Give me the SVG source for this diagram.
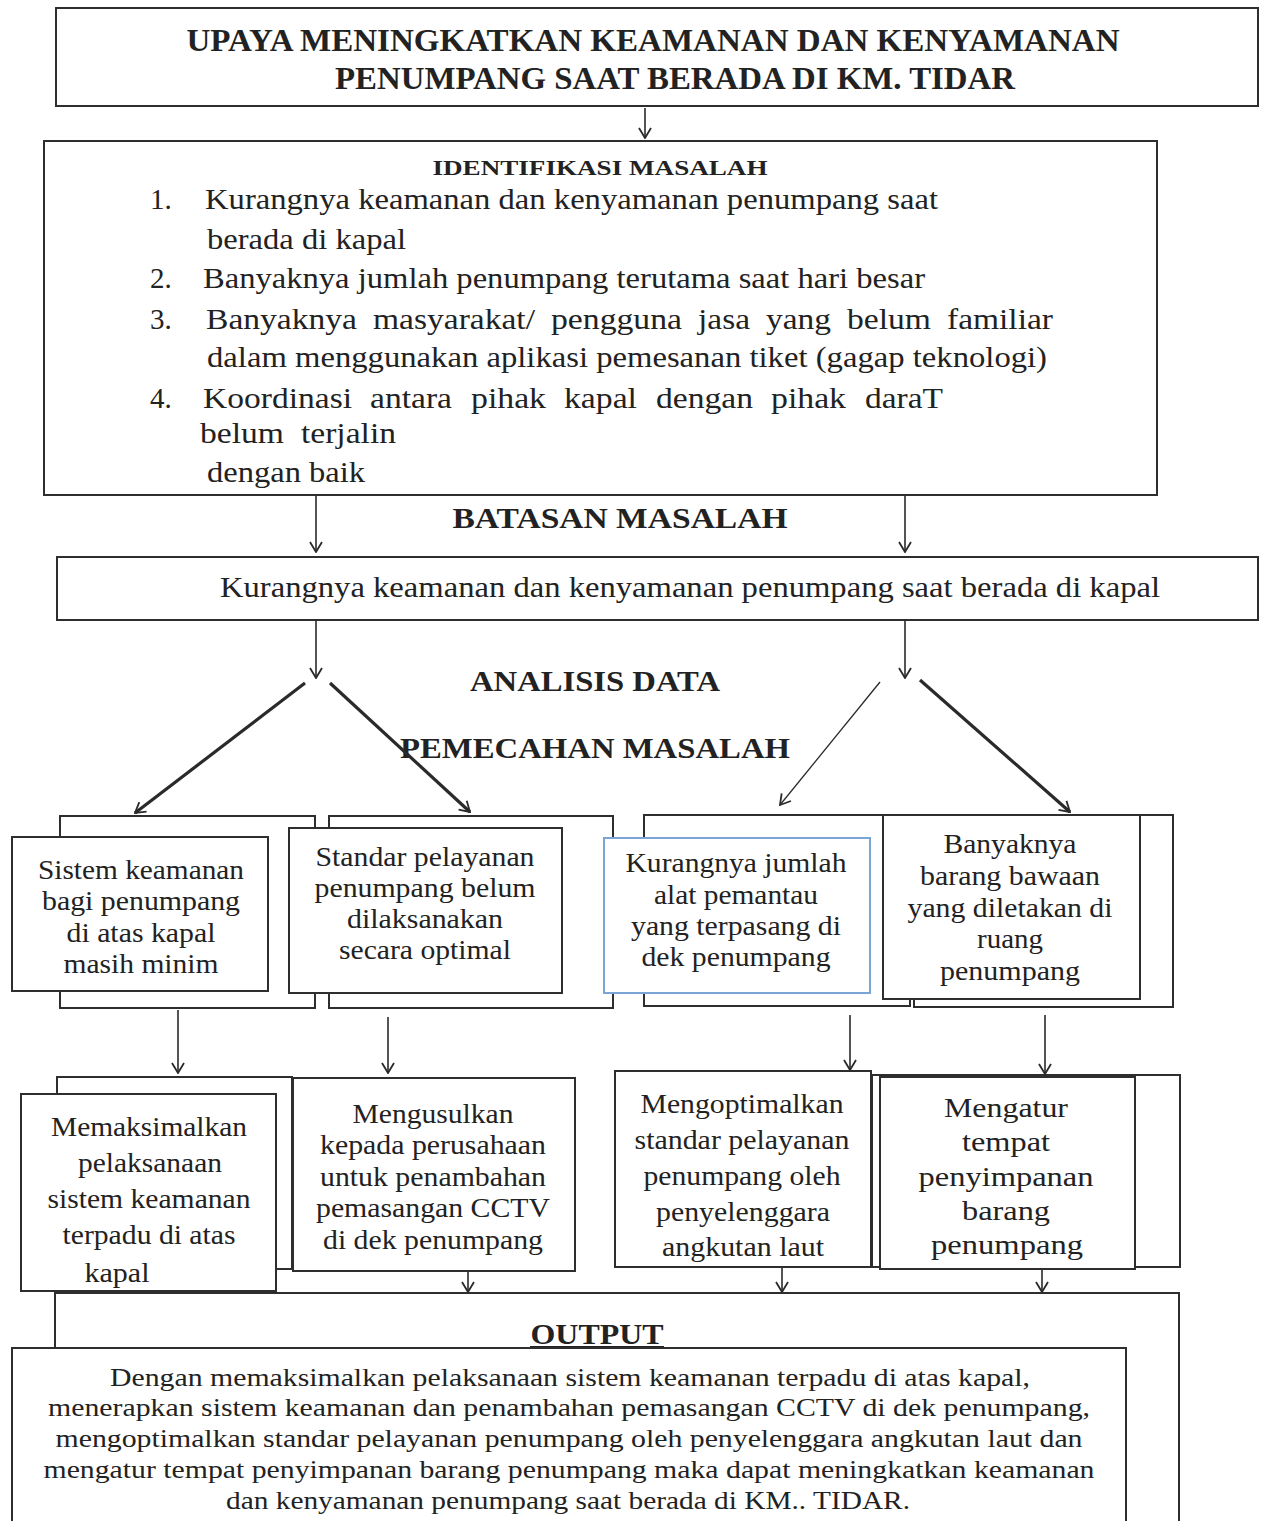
<svg xmlns="http://www.w3.org/2000/svg" width="1261" height="1521" viewBox="0 0 1261 1521">
<style>
.bg{fill:#fff}
.box{fill:#fff;stroke:#2e2e2e;stroke-width:2}
.blue{fill:#fff;stroke:#7aa6d6;stroke-width:2}
.t{font-family:"Liberation Serif","Times New Roman",serif;fill:#222;font-size:29px}
.b{font-weight:bold}
.c{text-anchor:middle}
.h{font-size:29px}
.n{font-size:27.5px}
.o{font-size:25px}
.ln{fill:none;stroke:#2a2a2a;stroke-width:1.6}
.thick{stroke-width:3.2}
.thin{stroke-width:1.3}
</style>
<defs>
<marker id="ah" viewBox="-1 -7 12 14" refX="10" refY="0" markerWidth="12" markerHeight="14" markerUnits="userSpaceOnUse" orient="auto">
<path d="M0,-6 L10,0 L0,6" fill="none" stroke="#2a2a2a" stroke-width="1.8"/>
</marker>
</defs>
<rect class="bg" x="0" y="0" width="1261" height="1521"/>

<g id="title">
<rect class="box" x="56" y="8" width="1202" height="98"/>
<text class="t b c" x="653" y="51" style="font-size:31px" textLength="933" lengthAdjust="spacingAndGlyphs">UPAYA MENINGKATKAN KEAMANAN DAN KENYAMANAN</text>
<text class="t b c" x="675" y="89" style="font-size:31px" textLength="680" lengthAdjust="spacingAndGlyphs">PENUMPANG SAAT BERADA DI KM. TIDAR</text>
</g>

<g id="identifikasi">
<rect class="box" x="44" y="141" width="1113" height="354"/>
<text class="t b c" x="600" y="175" style="font-size:22px" textLength="335" lengthAdjust="spacingAndGlyphs">IDENTIFIKASI MASALAH</text>
<text class="t" x="150" y="209">1.</text>
<text class="t" x="205" y="209" textLength="733" lengthAdjust="spacingAndGlyphs">Kurangnya keamanan dan kenyamanan penumpang saat</text>
<text class="t" x="207" y="249" textLength="199" lengthAdjust="spacingAndGlyphs">berada di kapal</text>
<text class="t" x="150" y="288">2.</text>
<text class="t" x="203" y="288" textLength="722" lengthAdjust="spacingAndGlyphs">Banyaknya jumlah penumpang terutama saat hari besar</text>
<text class="t" x="150" y="329">3.</text>
<text class="t" x="206" y="329" textLength="151" lengthAdjust="spacingAndGlyphs">Banyaknya</text>
<text class="t" x="373" y="329" textLength="162" lengthAdjust="spacingAndGlyphs">masyarakat/</text>
<text class="t" x="551" y="329" textLength="131" lengthAdjust="spacingAndGlyphs">pengguna</text>
<text class="t" x="698" y="329" textLength="52" lengthAdjust="spacingAndGlyphs">jasa</text>
<text class="t" x="766" y="329" textLength="65" lengthAdjust="spacingAndGlyphs">yang</text>
<text class="t" x="847" y="329" textLength="84" lengthAdjust="spacingAndGlyphs">belum</text>
<text class="t" x="947" y="329" textLength="106" lengthAdjust="spacingAndGlyphs">familiar</text>
<text class="t" x="207" y="367" textLength="840" lengthAdjust="spacingAndGlyphs">dalam menggunakan aplikasi pemesanan tiket (gagap teknologi)</text>
<text class="t" x="150" y="408">4.</text>
<text class="t" x="203" y="408" textLength="149" lengthAdjust="spacingAndGlyphs">Koordinasi</text>
<text class="t" x="370" y="408" textLength="82" lengthAdjust="spacingAndGlyphs">antara</text>
<text class="t" x="471" y="408" textLength="75" lengthAdjust="spacingAndGlyphs">pihak</text>
<text class="t" x="564" y="408" textLength="73" lengthAdjust="spacingAndGlyphs">kapal</text>
<text class="t" x="656" y="408" textLength="97" lengthAdjust="spacingAndGlyphs">dengan</text>
<text class="t" x="771" y="408" textLength="75" lengthAdjust="spacingAndGlyphs">pihak</text>
<text class="t" x="865" y="408" textLength="78" lengthAdjust="spacingAndGlyphs">daraT</text>
<text class="t" x="200" y="443" textLength="84" lengthAdjust="spacingAndGlyphs">belum</text>
<text class="t" x="301" y="443" textLength="95" lengthAdjust="spacingAndGlyphs">terjalin</text>
<text class="t" x="207" y="482" textLength="158" lengthAdjust="spacingAndGlyphs">dengan baik</text>
</g>

<g id="label-batasan">
<text class="t b c h" x="620" y="528" textLength="335" lengthAdjust="spacingAndGlyphs">BATASAN MASALAH</text>
</g>

<g id="batasan">
<rect class="box" x="57" y="557" width="1201" height="63"/>
<text class="t" x="220" y="597" textLength="940" lengthAdjust="spacingAndGlyphs">Kurangnya keamanan dan kenyamanan penumpang saat berada di kapal</text>
</g>

<g id="label-analisis">
<text class="t b c h" x="595" y="691" textLength="250" lengthAdjust="spacingAndGlyphs">ANALISIS DATA</text>
</g>
<g id="label-pemecahan">
<text class="t b c h" x="595" y="758" textLength="390" lengthAdjust="spacingAndGlyphs">PEMECAHAN MASALAH</text>
</g>

<g id="masalah-1">
<rect class="box" x="60" y="816" width="255" height="192"/>
<rect class="box" x="12" y="837" width="256" height="154"/>
<text class="t n c" x="141" y="879" textLength="206" lengthAdjust="spacingAndGlyphs">Sistem keamanan</text>
<text class="t n c" x="141" y="910" textLength="198" lengthAdjust="spacingAndGlyphs">bagi penumpang</text>
<text class="t n c" x="141" y="942" textLength="149" lengthAdjust="spacingAndGlyphs">di atas kapal</text>
<text class="t n c" x="141" y="973" textLength="155" lengthAdjust="spacingAndGlyphs">masih minim</text>
</g>
<g id="masalah-2">
<rect class="box" x="329" y="816" width="284" height="192"/>
<rect class="box" x="289" y="828" width="273" height="165"/>
<text class="t n c" x="425" y="866" textLength="219" lengthAdjust="spacingAndGlyphs">Standar pelayanan</text>
<text class="t n c" x="425" y="897" textLength="221" lengthAdjust="spacingAndGlyphs">penumpang belum</text>
<text class="t n c" x="425" y="928" textLength="156" lengthAdjust="spacingAndGlyphs">dilaksanakan</text>
<text class="t n c" x="425" y="959" textLength="172" lengthAdjust="spacingAndGlyphs">secara optimal</text>
</g>
<g id="masalah-3">
<rect class="box" x="644" y="815" width="266" height="191"/>
<rect class="blue" x="604" y="838" width="266" height="155"/>
<text class="t n c" x="736" y="872" textLength="221" lengthAdjust="spacingAndGlyphs">Kurangnya jumlah</text>
<text class="t n c" x="736" y="904" textLength="164" lengthAdjust="spacingAndGlyphs">alat pemantau</text>
<text class="t n c" x="736" y="935" textLength="210" lengthAdjust="spacingAndGlyphs">yang terpasang di</text>
<text class="t n c" x="736" y="966" textLength="189" lengthAdjust="spacingAndGlyphs">dek penumpang</text>
</g>
<g id="masalah-4">
<rect class="box" x="914" y="815" width="259" height="192"/>
<rect class="box" x="883" y="815" width="257" height="184"/>
<text class="t n c" x="1010" y="853" textLength="133" lengthAdjust="spacingAndGlyphs">Banyaknya</text>
<text class="t n c" x="1010" y="885" textLength="180" lengthAdjust="spacingAndGlyphs">barang bawaan</text>
<text class="t n c" x="1010" y="917" textLength="205" lengthAdjust="spacingAndGlyphs">yang diletakan di</text>
<text class="t n c" x="1010" y="948" textLength="66" lengthAdjust="spacingAndGlyphs">ruang</text>
<text class="t n c" x="1010" y="980" textLength="140" lengthAdjust="spacingAndGlyphs">penumpang</text>
</g>

<g id="solusi-1">
<rect class="box" x="57" y="1077" width="235" height="192"/>
<rect class="box" x="21" y="1094" width="255" height="197"/>
<text class="t n c" x="149" y="1136" textLength="196" lengthAdjust="spacingAndGlyphs">Memaksimalkan</text>
<text class="t n c" x="150" y="1172" textLength="144" lengthAdjust="spacingAndGlyphs">pelaksanaan</text>
<text class="t n c" x="149" y="1208" textLength="203" lengthAdjust="spacingAndGlyphs">sistem keamanan</text>
<text class="t n c" x="149" y="1244" textLength="173" lengthAdjust="spacingAndGlyphs">terpadu di atas</text>
<text class="t n c" x="117" y="1282" textLength="65" lengthAdjust="spacingAndGlyphs">kapal</text>
</g>
<g id="solusi-2">
<rect class="box" x="293" y="1078" width="282" height="193"/>
<text class="t n c" x="433" y="1123" textLength="161" lengthAdjust="spacingAndGlyphs">Mengusulkan</text>
<text class="t n c" x="433" y="1154" textLength="226" lengthAdjust="spacingAndGlyphs">kepada perusahaan</text>
<text class="t n c" x="433" y="1186" textLength="226" lengthAdjust="spacingAndGlyphs">untuk penambahan</text>
<text class="t n c" x="433" y="1217" textLength="234" lengthAdjust="spacingAndGlyphs">pemasangan CCTV</text>
<text class="t n c" x="433" y="1249" textLength="220" lengthAdjust="spacingAndGlyphs">di dek penumpang</text>
</g>
<g id="solusi-3">
<rect class="box" x="615" y="1071" width="256" height="196"/>
<text class="t n c" x="742" y="1113" textLength="203" lengthAdjust="spacingAndGlyphs">Mengoptimalkan</text>
<text class="t n c" x="742" y="1149" textLength="215" lengthAdjust="spacingAndGlyphs">standar pelayanan</text>
<text class="t n c" x="742" y="1185" textLength="197" lengthAdjust="spacingAndGlyphs">penumpang oleh</text>
<text class="t n c" x="743" y="1221" textLength="174" lengthAdjust="spacingAndGlyphs">penyelenggara</text>
<text class="t n c" x="743" y="1256" textLength="162" lengthAdjust="spacingAndGlyphs">angkutan laut</text>
</g>
<g id="solusi-4">
<rect class="box" x="872" y="1075" width="308" height="192"/>
<rect class="box" x="880" y="1077" width="255" height="192"/>
<text class="t n c" x="1006" y="1117" textLength="124" lengthAdjust="spacingAndGlyphs">Mengatur</text>
<text class="t n c" x="1006" y="1151" textLength="88" lengthAdjust="spacingAndGlyphs">tempat</text>
<text class="t n c" x="1006" y="1186" textLength="175" lengthAdjust="spacingAndGlyphs">penyimpanan</text>
<text class="t n c" x="1006" y="1220" textLength="88" lengthAdjust="spacingAndGlyphs">barang</text>
<text class="t n c" x="1007" y="1254" textLength="152" lengthAdjust="spacingAndGlyphs">penumpang</text>
</g>

<g id="output">
<rect class="box" x="55" y="1293" width="1124" height="240"/>
<text class="t b c h" x="597" y="1344" textLength="133" lengthAdjust="spacingAndGlyphs">OUTPUT</text>
<line x1="530" y1="1347" x2="664" y2="1347" stroke="#222" stroke-width="2"/>
<rect class="box" x="12" y="1348" width="1114" height="185"/>
<text class="t o c" x="570" y="1386" textLength="920" lengthAdjust="spacingAndGlyphs">Dengan memaksimalkan pelaksanaan sistem keamanan terpadu di atas kapal,</text>
<text class="t o c" x="569" y="1416" textLength="1042" lengthAdjust="spacingAndGlyphs">menerapkan sistem keamanan dan penambahan pemasangan CCTV di dek penumpang,</text>
<text class="t o c" x="569" y="1447" textLength="1027" lengthAdjust="spacingAndGlyphs">mengoptimalkan standar pelayanan penumpang oleh penyelenggara angkutan laut dan</text>
<text class="t o c" x="569" y="1478" textLength="1051" lengthAdjust="spacingAndGlyphs">mengatur tempat penyimpanan barang penumpang maka dapat meningkatkan keamanan</text>
<text class="t o c" x="568" y="1509" textLength="684" lengthAdjust="spacingAndGlyphs">dan kenyamanan penumpang saat berada di KM.. TIDAR.</text>
</g>

<g id="connectors">
<line class="ln" x1="645" y1="108" x2="645" y2="138" marker-end="url(#ah)"/>
<line class="ln" x1="316" y1="496" x2="316" y2="552" marker-end="url(#ah)"/>
<line class="ln" x1="905" y1="496" x2="905" y2="552" marker-end="url(#ah)"/>
<line class="ln" x1="316" y1="621" x2="316" y2="678" marker-end="url(#ah)"/>
<line class="ln" x1="905" y1="621" x2="905" y2="678" marker-end="url(#ah)"/>
<line class="ln thick" x1="305" y1="683" x2="135" y2="813" marker-end="url(#ah)"/>
<line class="ln thick" x1="330" y1="683" x2="470" y2="812" marker-end="url(#ah)"/>
<line class="ln thin" x1="880" y1="682" x2="780" y2="805" marker-end="url(#ah)"/>
<line class="ln thick" x1="920" y1="680" x2="1070" y2="812" marker-end="url(#ah)"/>
<line class="ln" x1="178" y1="1010" x2="178" y2="1073" marker-end="url(#ah)"/>
<line class="ln" x1="388" y1="1017" x2="388" y2="1073" marker-end="url(#ah)"/>
<line class="ln" x1="850" y1="1015" x2="850" y2="1070" marker-end="url(#ah)"/>
<line class="ln" x1="1045" y1="1015" x2="1045" y2="1074" marker-end="url(#ah)"/>
<line class="ln" x1="468" y1="1272" x2="468" y2="1292" marker-end="url(#ah)"/>
<line class="ln" x1="782" y1="1268" x2="782" y2="1292" marker-end="url(#ah)"/>
<line class="ln" x1="1042" y1="1270" x2="1042" y2="1292" marker-end="url(#ah)"/>
</g>
</svg>
